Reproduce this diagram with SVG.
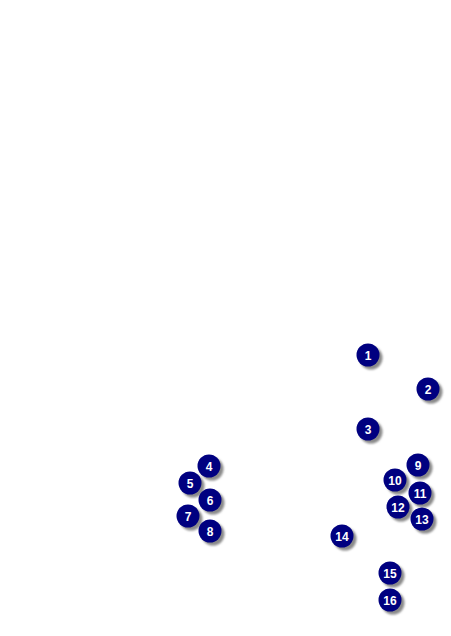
<svg xmlns="http://www.w3.org/2000/svg" width="451" height="636" viewBox="0 0 451 636">
<defs>
<filter id="sh" x="-50%" y="-50%" width="200%" height="200%">
<feGaussianBlur stdDeviation="1"/>
</filter>
<style>
.s{fill:#8a8a8a;filter:url(#sh)}
.c{fill:#000080}
.t{fill:#ffffff;font-family:"Liberation Sans",Arial,sans-serif;font-weight:bold;font-size:12px;text-anchor:middle}
</style>
</defs>
<rect width="451" height="636" fill="#ffffff"/>
<g id="connectors"></g>
<g id="n1"><circle class="s" cx="371" cy="358" r="11.5"/><circle class="c" cx="368" cy="355" r="11.5"/><text class="t" x="368" y="359.5">1</text></g>
<g id="n2"><circle class="s" cx="431" cy="392" r="11.5"/><circle class="c" cx="428" cy="389" r="11.5"/><text class="t" x="428" y="393.5">2</text></g>
<g id="n3"><circle class="s" cx="371" cy="432" r="11.5"/><circle class="c" cx="368" cy="429" r="11.5"/><text class="t" x="368" y="433.5">3</text></g>
<g id="n4"><circle class="s" cx="212" cy="469" r="11.5"/><circle class="c" cx="209" cy="466" r="11.5"/><text class="t" x="209" y="470.5">4</text></g>
<g id="n5"><circle class="s" cx="193" cy="486" r="11.5"/><circle class="c" cx="190" cy="483" r="11.5"/><text class="t" x="190" y="487.5">5</text></g>
<g id="n6"><circle class="s" cx="213" cy="503" r="11.5"/><circle class="c" cx="210" cy="500" r="11.5"/><text class="t" x="210" y="504.5">6</text></g>
<g id="n7"><circle class="s" cx="191" cy="519" r="11.5"/><circle class="c" cx="188" cy="516" r="11.5"/><text class="t" x="188" y="520.5">7</text></g>
<g id="n8"><circle class="s" cx="213" cy="534" r="11.5"/><circle class="c" cx="210" cy="531" r="11.5"/><text class="t" x="210" y="535.5">8</text></g>
<g id="n9"><circle class="s" cx="421" cy="468" r="11.5"/><circle class="c" cx="418" cy="465" r="11.5"/><text class="t" x="418" y="469.5">9</text></g>
<g id="n10"><circle class="s" cx="398" cy="483" r="11.5"/><circle class="c" cx="395" cy="480" r="11.5"/><text class="t" x="395" y="484.5">10</text></g>
<g id="n11"><circle class="s" cx="423" cy="496" r="11.5"/><circle class="c" cx="420" cy="493" r="11.5"/><text class="t" x="420" y="497.5">11</text></g>
<g id="n12"><circle class="s" cx="401" cy="510" r="11.5"/><circle class="c" cx="398" cy="507" r="11.5"/><text class="t" x="398" y="511.5">12</text></g>
<g id="n13"><circle class="s" cx="425" cy="522" r="11.5"/><circle class="c" cx="422" cy="519" r="11.5"/><text class="t" x="422" y="523.5">13</text></g>
<g id="n14"><circle class="s" cx="345" cy="539" r="11.5"/><circle class="c" cx="342" cy="536" r="11.5"/><text class="t" x="342" y="540.5">14</text></g>
<g id="n15"><circle class="s" cx="393" cy="576" r="11.5"/><circle class="c" cx="390" cy="573" r="11.5"/><text class="t" x="390" y="577.5">15</text></g>
<g id="n16"><circle class="s" cx="393" cy="603" r="11.5"/><circle class="c" cx="390" cy="600" r="11.5"/><text class="t" x="390" y="604.5">16</text></g>
</svg>
